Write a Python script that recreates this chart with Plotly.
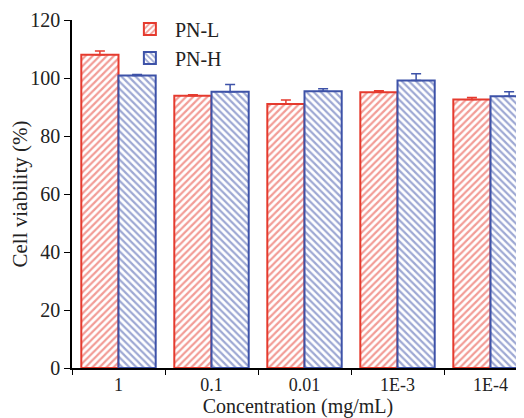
import plotly.graph_objects as go

categories = ["1", "0.1", "0.01", "1E-3", "1E-4"]
pn_l = [108.0, 93.9, 91.0, 95.1, 92.6]
pn_l_err = [1.3, 0.3, 1.4, 0.5, 0.7]
pn_h = [100.9, 95.3, 95.4, 99.1, 93.7]
pn_h_err = [0.3, 2.5, 0.9, 2.4, 1.6]

RED = "#e53a2e"
BLUE = "#3d52a8"

fig = go.Figure()
fig.add_trace(go.Bar(
    x=categories, y=pn_l, name="PN-L",
    marker=dict(color="white", line=dict(color=RED, width=2),
                pattern=dict(shape="/", fgcolor=RED, bgcolor="white", size=5, solidity=0.45)),
    error_y=dict(type="data", array=pn_l_err, arrayminus=[0]*len(pn_l_err), symmetric=False,
                 color=RED, thickness=1.5, width=5),
))
fig.add_trace(go.Bar(
    x=categories, y=pn_h, name="PN-H",
    marker=dict(color="white", line=dict(color=BLUE, width=2),
                pattern=dict(shape="\\", fgcolor=BLUE, bgcolor="white", size=5, solidity=0.45)),
    error_y=dict(type="data", array=pn_h_err, arrayminus=[0]*len(pn_h_err), symmetric=False,
                 color=BLUE, thickness=1.5, width=5),
))

ff = "Liberation Serif, DejaVu Serif, serif"
font = dict(family=ff, size=20, color="#222")
fig.update_layout(
    width=516, height=410,
    margin=dict(l=64, r=0, t=12, b=50),
    paper_bgcolor="white", plot_bgcolor="white",
    barmode="group", bargap=0.2, bargroupgap=0,
    font=font,
    showlegend=True,
    legend=dict(x=0.117, y=1.03, xanchor="left", yanchor="top", bgcolor="rgba(0,0,0,0)",
                font=dict(family=ff, size=20, color="#222"), itemwidth=40, tracegroupgap=0),
    xaxis=dict(range=[-0.5, 4.36], showline=True, linecolor="black", linewidth=1.5,
               ticks="outside", tickson="boundaries", ticklen=5, tickcolor="black",
               showgrid=False, zeroline=False, automargin=False,
               tickfont=dict(size=18),
               title=dict(text="Concentration (mg/mL)", standoff=3, font=dict(size=20))),
    yaxis=dict(range=[0, 120], tickvals=[0, 20, 40, 60, 80, 100, 120], showline=True,
               linecolor="black", linewidth=1.5, ticks="outside", ticklen=6, tickcolor="black",
               showgrid=False, zeroline=False, automargin=False,
               tickfont=dict(size=20),
               title=dict(text="Cell viability (%)", standoff=2, font=dict(size=21))),
)
fig.write_html("out.html")
